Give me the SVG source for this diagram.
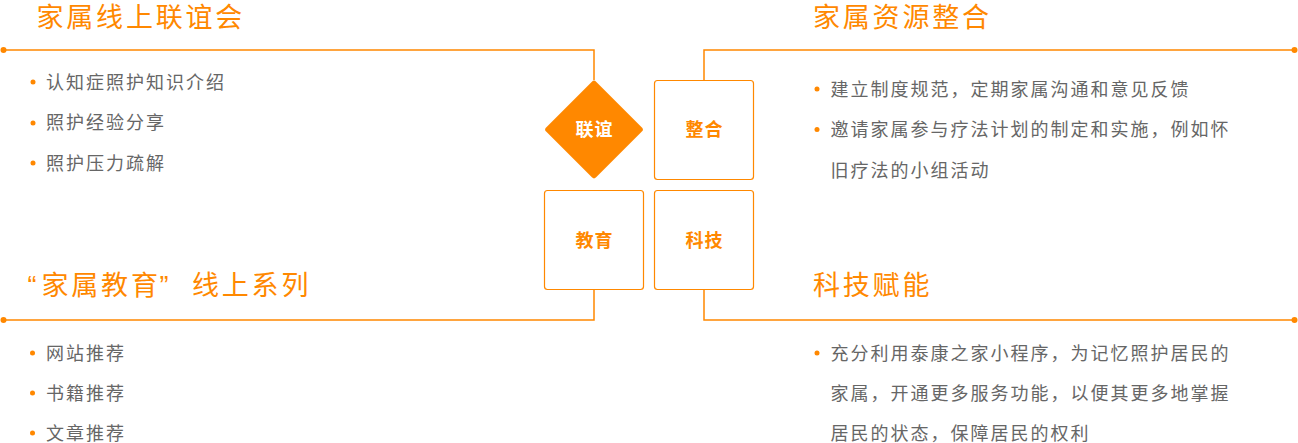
<svg xmlns="http://www.w3.org/2000/svg" width="1298" height="443" viewBox="0 0 1298 443">
<style>
  text { font-family: "Noto Sans CJK SC", "Noto Sans", sans-serif; }
  .title { font-size: 27px; fill: #FF8800; letter-spacing: 2.8px; }
  .q { font-family: "Liberation Sans", sans-serif; letter-spacing: 0; }
  .item { font-size: 18px; fill: #666666; letter-spacing: 2px; }
  .dot { fill: #FF8800; }
  .conn { fill: none; stroke: #FF8800; stroke-width: 1.5; }
  .box { fill: #FFFFFF; stroke: #FF8800; stroke-width: 1.2; }
  .lbl { font-size: 18px; font-weight: bold; fill: #FF8800; text-anchor: middle; letter-spacing: 1px; }
  .lblw { font-size: 18px; font-weight: bold; fill: #FFFFFF; text-anchor: middle; letter-spacing: 1px; }
</style>
<rect width="1298" height="443" fill="#FFFFFF"/>

<g id="connectors">
  <path class="conn" d="M3,50 H594 V80"/>
  <path class="conn" d="M704,80 V50 H1295"/>
  <path class="conn" d="M594,290 V320 H3"/>
  <path class="conn" d="M704,290 V320 H1295"/>
  <circle class="dot" cx="3.5" cy="50" r="3"/>
  <circle class="dot" cx="1294.5" cy="50" r="3"/>
  <circle class="dot" cx="3.5" cy="320" r="3"/>
  <circle class="dot" cx="1294.5" cy="320" r="3"/>
</g>

<g id="node-lianyi">
  <rect x="-35.35" y="-35.35" width="70.7" height="70.7" rx="3" fill="#FF8800" transform="translate(594,129.5) rotate(45)"/>
  <text class="lblw" x="594.5" y="136">联谊</text>
</g>
<g id="node-zhenghe">
  <rect class="box" x="654.5" y="80.5" width="99" height="99" rx="3"/>
  <text class="lbl" x="704.5" y="136">整合</text>
</g>
<g id="node-jiaoyu">
  <rect class="box" x="544.5" y="190.5" width="99" height="99" rx="3"/>
  <text class="lbl" x="594.5" y="247">教育</text>
</g>
<g id="node-keji">
  <rect class="box" x="654.5" y="190.5" width="99" height="99" rx="3"/>
  <text class="lbl" x="704.5" y="247">科技</text>
</g>

<g id="section-lianyi">
  <text class="title" x="36.5" y="26.5">家属线上联谊会</text>
  <circle class="dot" cx="33" cy="82" r="2.5"/>
  <text class="item" x="46" y="88.5">认知症照护知识介绍</text>
  <circle class="dot" cx="33" cy="123" r="2.5"/>
  <text class="item" x="46" y="129">照护经验分享</text>
  <circle class="dot" cx="33" cy="163" r="2.5"/>
  <text class="item" x="46" y="169.5">照护压力疏解</text>
</g>

<g id="section-zhenghe">
  <text class="title" x="813" y="26.5">家属资源整合</text>
  <circle class="dot" cx="817" cy="89" r="2.5"/>
  <text class="item" x="830.5" y="95.5">建立制度规范，定期家属沟通和意见反馈</text>
  <circle class="dot" cx="817" cy="129.5" r="2.5"/>
  <text class="item" x="830.5" y="136">邀请家属参与疗法计划的制定和实施，例如怀</text>
  <text class="item" x="830.5" y="176.5">旧疗法的小组活动</text>
</g>

<g id="section-jiaoyu">
  <text class="title" y="295"><tspan class="q" x="27.5">“</tspan><tspan x="41.5">家属教育</tspan><tspan class="q" x="159.5">”</tspan><tspan x="192">线上系列</tspan></text>
  <circle class="dot" cx="32.5" cy="353" r="2.5"/>
  <text class="item" x="46" y="359.5">网站推荐</text>
  <circle class="dot" cx="32.5" cy="393" r="2.5"/>
  <text class="item" x="46" y="400">书籍推荐</text>
  <circle class="dot" cx="32.5" cy="433" r="2.5"/>
  <text class="item" x="46" y="440">文章推荐</text>
</g>

<g id="section-keji">
  <text class="title" x="813" y="295">科技赋能</text>
  <circle class="dot" cx="817" cy="353" r="2.5"/>
  <text class="item" x="830.5" y="360">充分利用泰康之家小程序，为记忆照护居民的</text>
  <text class="item" x="830.5" y="400">家属，开通更多服务功能，以便其更多地掌握</text>
  <text class="item" x="830.5" y="440">居民的状态，保障居民的权利</text>
</g>
</svg>
